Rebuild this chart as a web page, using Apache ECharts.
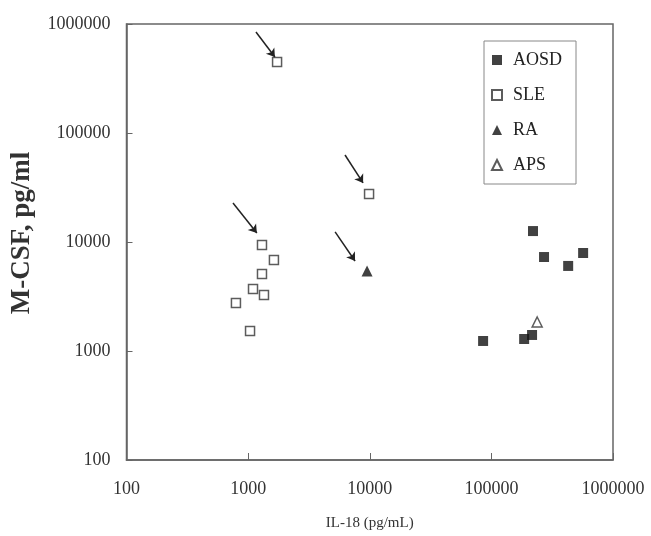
<!DOCTYPE html>
<html>
<head>
<meta charset="utf-8">
<script src="https://cdn.jsdelivr.net/npm/echarts@6/dist/echarts.min.js"></script>
<style>
  html, body { margin: 0; padding: 0; background: #fff; }
  #main { width: 651px; height: 536px; }
</style>
</head>
<body>
<div id="main"></div>
<script>
// IL-18 (x) vs M-CSF (y), pg/mL
var aosdX = [220000, 271000, 568000, 428000, 85500, 186000, 216000];
var aosdY = [12600, 7280, 7930, 6030, 1236, 1288, 1403];

var sleX = [1730, 1300, 1630, 1300, 1097, 1350, 794, 1037, 9870];
var sleY = [448000, 9380, 6840, 5080, 3710, 3270, 2750, 1525, 27500];

var raX = [9500];
var raY = [5420];

var apsX = [238000];
var apsY = [1845];

// arrows: [x1, y1, x2, y2] in data units
var arrows = [
  [1160, 845000, 1660, 498000],
  [751, 22800, 1180, 12100],
  [6260, 62800, 8810, 34800],
  [5190, 12400, 7570, 6700]
];

var serif = '"Liberation Serif", "DejaVu Serif", serif';

function pairs(xs, ys) {
  return xs.map(function (x, i) { return [x, ys[i]]; });
}

var chartDom = document.getElementById("main");
var myChart = echarts.init(chartDom, null, { renderer: "canvas" });

var option = {
  animation: false,
  backgroundColor: "#fff",
  grid: {
    left: 126.5,
    right: 38,
    top: 24,
    bottom: 76,
    show: true,
    borderColor: "#666",
    borderWidth: 1.5
  },
  legend: {
    orient: "vertical",
    left: 484,
    top: 41,
    padding: [10, 14, 10, 7],
    itemGap: 17,
    itemWidth: 10,
    itemHeight: 10,
    borderColor: "#888",
    borderWidth: 1,
    textStyle: { fontFamily: serif, fontSize: 18, color: "#222", padding: [0, 0, 0, 6] },
    data: ["AOSD", "SLE", "RA", "APS"]
  },
  xAxis: {
    type: "log",
    logBase: 10,
    min: 100,
    max: 1000000,
    name: "IL-18 (pg/mL)",
    nameLocation: "middle",
    nameGap: 56,
    nameTextStyle: { fontFamily: serif, fontSize: 15, color: "#333" },
    axisLine: { lineStyle: { color: "#666", width: 1.5 } },
    axisTick: { inside: true, length: 7, lineStyle: { color: "#666" } },
    splitLine: { show: false },
    axisLabel: {
      margin: 20,
      fontFamily: serif,
      fontSize: 18,
      color: "#333",
      formatter: function (v) { return String(Math.round(v)); }
    }
  },
  yAxis: {
    type: "log",
    logBase: 10,
    min: 100,
    max: 1000000,
    name: "M-CSF, pg/ml",
    nameLocation: "middle",
    nameGap: 91,
    nameTextStyle: {
      fontFamily: serif,
      fontSize: 27,
      fontWeight: "bold",
      color: "#333",
      padding: [0, 0, 0, 18]
    },
    axisLine: { lineStyle: { color: "#666", width: 1.5 } },
    axisTick: { inside: true, length: 6, lineStyle: { color: "#666" } },
    splitLine: { show: false },
    axisLabel: {
      margin: 16,
      fontFamily: serif,
      fontSize: 18,
      color: "#333",
      formatter: function (v) { return String(Math.round(v)); }
    }
  },
  series: [
    {
      name: "AOSD",
      type: "scatter",
      symbol: "rect",
      symbolSize: 10,
      itemStyle: { color: "#111" },
      data: pairs(aosdX, aosdY)
    },
    {
      name: "SLE",
      type: "scatter",
      symbol: "rect",
      symbolSize: 9,
      itemStyle: { color: "#fff", borderColor: "#333", borderWidth: 1.5 },
      data: pairs(sleX, sleY),
      markLine: {
        silent: true,
        symbol: ["none", "arrow"],
        symbolSize: 8,
        label: { show: false },
        lineStyle: { color: "#222", width: 1.5, type: "solid" },
        data: arrows.map(function (a) {
          return [{ coord: [a[0], a[1]] }, { coord: [a[2], a[3]] }];
        })
      }
    },
    {
      name: "RA",
      type: "scatter",
      symbol: "triangle",
      symbolSize: 11,
      itemStyle: { color: "#111" },
      data: pairs(raX, raY)
    },
    {
      name: "APS",
      type: "scatter",
      symbol: "triangle",
      symbolSize: 10,
      itemStyle: { color: "#fff", borderColor: "#333", borderWidth: 1.5 },
      data: pairs(apsX, apsY)
    }
  ]
};

option && myChart.setOption(option);
</script>
</body>
</html>
